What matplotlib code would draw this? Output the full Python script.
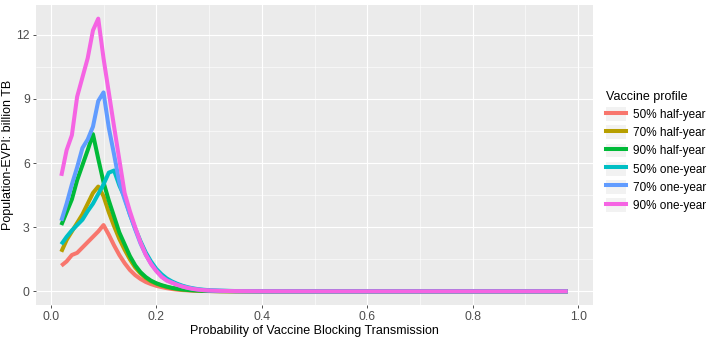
import matplotlib
matplotlib.use("Agg")
import matplotlib.pyplot as plt
from matplotlib.lines import Line2D
from matplotlib.patches import Patch
from matplotlib.legend_handler import HandlerTuple
from matplotlib.ticker import MultipleLocator

plt.rcParams['font.family'] = ['Liberation Sans', 'DejaVu Sans']

# ---- data ----
x_vals = [0.02, 0.03, 0.04, 0.05, 0.06, 0.07, 0.08, 0.09, 0.10, 0.11,
          0.12, 0.13, 0.14, 0.15, 0.16, 0.17, 0.18, 0.19, 0.20, 0.21,
          0.22, 0.23, 0.24, 0.25, 0.26, 0.27, 0.28, 0.29, 0.30,
          0.32, 0.35, 0.40, 0.50, 0.60, 0.70, 0.80, 0.90, 0.98]

half50 = [1.2, 1.4, 1.7, 1.8, 2.05, 2.3, 2.55, 2.8, 3.1, 2.65,
          2.15, 1.7, 1.32, 1.0, 0.76, 0.58, 0.44, 0.34, 0.26, 0.2,
          0.15, 0.11, 0.08, 0.06, 0.045, 0.033, 0.025, 0.018, 0.013,
          0.008, 0.004, 0.001, 0, 0, 0, 0, 0, 0]
half70 = [1.85, 2.4, 2.8, 3.2, 3.6, 4.1, 4.6, 4.9, 4.45, 3.7,
          3.05, 2.45, 1.95, 1.5, 1.12, 0.84, 0.63, 0.47, 0.36, 0.27,
          0.2, 0.15, 0.11, 0.08, 0.06, 0.045, 0.033, 0.024, 0.017,
          0.01, 0.005, 0.001, 0, 0, 0, 0, 0, 0]
half90 = [3.1, 3.7, 4.3, 5.2, 5.9, 6.6, 7.35, 6.2, 5.1, 4.25,
          3.5, 2.75, 2.2, 1.65, 1.22, 0.9, 0.67, 0.5, 0.38, 0.29,
          0.22, 0.16, 0.12, 0.09, 0.065, 0.048, 0.035, 0.025, 0.018,
          0.01, 0.005, 0.001, 0, 0, 0, 0, 0, 0]
one50 = [2.2, 2.55, 2.85, 3.1, 3.35, 3.75, 4.1, 4.55, 5.0, 5.55,
         5.65, 4.95, 4.4, 3.6, 2.95, 2.35, 1.82, 1.4, 1.05, 0.8,
         0.6, 0.46, 0.35, 0.26, 0.19, 0.14, 0.1, 0.075, 0.055,
         0.035, 0.015, 0.004, 0, 0, 0, 0, 0, 0]
one70 = [3.3, 4.1, 5.0, 5.8, 6.7, 7.1, 7.7, 8.9, 9.3, 7.65,
         6.4, 5.1, 4.3, 3.6, 2.9, 2.25, 1.72, 1.3, 0.97, 0.7,
         0.52, 0.41, 0.31, 0.23, 0.17, 0.12, 0.085, 0.06, 0.042,
         0.025, 0.01, 0.003, 0, 0, 0, 0, 0, 0]
one90 = [5.4, 6.6, 7.3, 9.1, 10.0, 10.9, 12.2, 12.75, 10.9, 9.3,
         7.7, 6.15, 4.6, 3.75, 3.0, 2.3, 1.72, 1.28, 0.95, 0.68,
         0.5, 0.4, 0.3, 0.22, 0.16, 0.11, 0.08, 0.055, 0.04,
         0.025, 0.01, 0.003, 0, 0, 0, 0, 0, 0]

labels = ["50% half-year", "70% half-year", "90% half-year",
          "50% one-year", "70% one-year", "90% one-year"]
series = [half50, half70, half90, one50, one70, one90]
colors = ["#F8766D", "#B79F00", "#00BA38", "#00BFC4", "#619CFF", "#F564E3"]

x_ticks = [0.0, 0.2, 0.4, 0.6, 0.8, 1.0]
y_ticks = [0, 3, 6, 9, 12]

# ---- figure ----
W, H = 708, 339
fig = plt.figure(figsize=(W / 100, H / 100), dpi=100)
ax = fig.add_axes([36 / W, 1 - 305 / H, (593 - 36) / W, (305 - 5) / H])
ax.set_facecolor("#EBEBEB")
for s in ax.spines.values():
    s.set_visible(False)

for vals, c in zip(series, colors):
    ax.plot(x_vals, vals, color=c, lw=2.9, solid_capstyle='butt',
            solid_joinstyle='round', zorder=3)

xr = max(x_vals) - min(x_vals)
ax.set_xlim(min(x_vals) - 0.05 * xr, max(x_vals) + 0.05 * xr)
ymax = max(max(s) for s in series)
ax.set_ylim(-0.05 * ymax, ymax * 1.05)

ax.set_xticks(x_ticks)
ax.set_xticklabels([f"{t:.1f}" for t in x_ticks])
ax.set_yticks(y_ticks)
ax.set_yticklabels([str(t) for t in y_ticks])
ax.xaxis.set_minor_locator(MultipleLocator(0.1))
ax.yaxis.set_minor_locator(MultipleLocator(1.5))

ax.grid(True, which='major', color='white', lw=0.85, zorder=1)
ax.grid(True, which='minor', color='white', lw=0.4, zorder=1)
ax.set_axisbelow(True)
ax.tick_params(axis='both', which='major', length=2.5, width=0.6,
               color='#333333', labelcolor='#4D4D4D', labelsize=8.8, pad=2)
ax.tick_params(axis='both', which='minor', length=0)

ax.set_xlabel("Probability of Vaccine Blocking Transmission", fontsize=9,
              color='black', labelpad=1.5)
ax.set_ylabel("Population-EVPI: billion TB", fontsize=9, color='black')
ax.yaxis.set_label_coords((14 - 36) / (593 - 36), 0.5)

handles = [(Patch(facecolor='#F2F2F2', edgecolor='none'),
            Line2D([], [], color=c, lw=2.9)) for c in colors]
leg = fig.legend(handles, labels, loc='upper left',
                 bbox_to_anchor=(601 / W, 1 - 86 / H),
                 handler_map={tuple: HandlerTuple(ndivide=1, pad=0)},
                 frameon=False, title="Vaccine profile",
                 fontsize=8.5, title_fontsize=9,
                 handlelength=1.7, handleheight=1.4, handletextpad=0.6,
                 labelspacing=0.38, borderaxespad=0)
leg._legend_box.align = "left"

fig.savefig("out.png", dpi=100)
